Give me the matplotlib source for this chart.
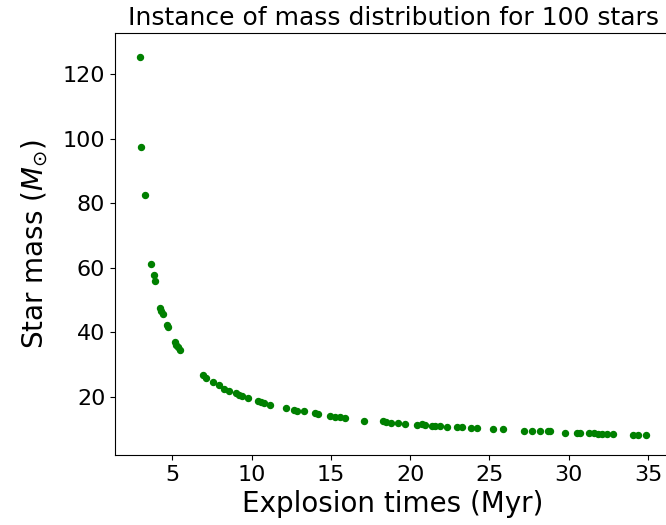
import matplotlib
matplotlib.use("Agg")
import matplotlib.pyplot as plt

times = [2.98, 3.05, 3.25,
         3.67, 3.82, 3.90, 4.24, 4.30, 4.39, 4.66, 4.70, 5.14, 5.25, 5.36, 5.46,
         6.93, 7.14, 7.56, 7.92, 8.29, 8.59, 9.03, 9.22, 9.39, 9.79, 10.4, 10.6,
         10.8, 11.13, 12.16, 12.67, 12.89, 13.3, 13.99, 14.18, 14.97, 15.29, 15.58,
         15.9, 17.12,
         18.27, 18.48, 18.78, 19.26, 19.66, 20.45, 20.75, 20.94, 21.38, 21.59, 21.86,
         22.3, 22.98, 23.29, 23.84, 24.2, 25.2, 25.83, 27.2, 27.7, 28.2, 28.67, 28.84,
         29.78, 30.53, 30.7, 31.29, 31.59, 31.86, 32.1, 32.39, 32.8, 34.05, 34.4, 34.86]
masses = [125.4, 97.6, 82.6,
          61.3, 57.8, 56.0, 47.5, 46.5, 45.5, 42.1, 41.6, 36.9, 36.1, 35.4, 34.6,
          26.7, 25.9, 24.7, 23.6, 22.4, 21.7, 21.0, 20.6, 20.3, 19.7, 18.7, 18.4,
          18.0, 17.5, 16.5, 15.9, 15.6, 15.6, 14.8, 14.7, 14.1, 13.8, 13.6,
          13.4, 12.6,
          12.3, 12.1, 11.9, 11.9, 11.6, 11.3, 11.4, 11.3, 11.0, 11.0, 11.0,
          10.7, 10.7, 10.7, 10.3, 10.3, 10.0, 10.0, 9.5, 9.5, 9.2, 9.2, 9.2,
          8.8, 8.8, 8.8, 8.8, 8.6, 8.5, 8.5, 8.5, 8.5, 8.1, 8.1, 8.1]

fig = plt.figure(figsize=(6.66, 5.25), dpi=100)
# the reference is cropped on the right: the axes run slightly past the figure edge
ax = fig.add_axes([0.1727, 0.1333, 0.8348, 0.8038])
ax.plot(times, masses, 'o', color='green', markersize=4.3, linestyle='none')
ax.set_title("Instance of mass distribution for 100 stars", fontsize=18)
ax.set_xlabel("Explosion times (Myr)", fontsize=20)
ax.set_ylabel(r"Star mass ($M_{\odot}$)", fontsize=20, labelpad=9)
ax.tick_params(labelsize=16)
ax.set_xticks([5, 10, 15, 20, 25, 30, 35])
ax.set_yticks([20, 40, 60, 80, 100, 120])
ax.set_ylim(1.9, 132.8)
fig.savefig("out.png", dpi=100)
